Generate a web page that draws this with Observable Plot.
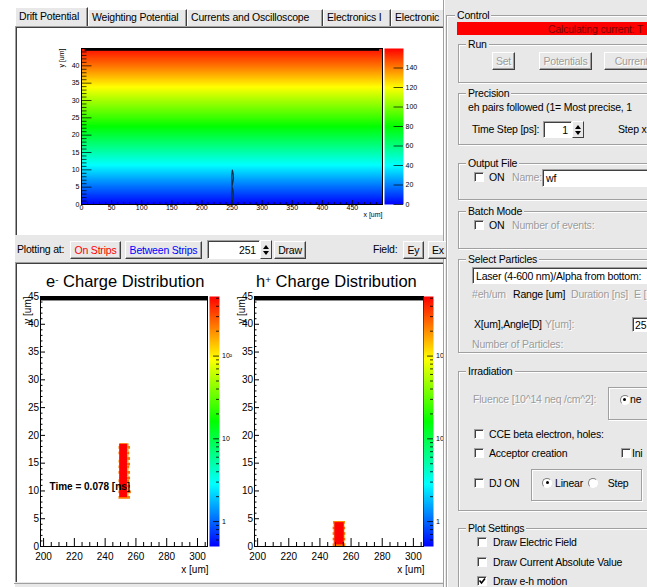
<!DOCTYPE html>
<html><head><meta charset="utf-8">
<script src="https://cdn.jsdelivr.net/npm/d3@7"></script>
<script src="https://cdn.jsdelivr.net/npm/@observablehq/plot@0.6"></script>
<style>
body{margin:0;width:647px;height:587px;overflow:hidden;background:#fff;font-family:"Liberation Sans",Arial,sans-serif;font-size:10.5px;position:relative;color:#000}
div{box-sizing:border-box}
.p{position:absolute}
.t{position:absolute;white-space:nowrap;line-height:12px;letter-spacing:-0.2px}
.dis{color:#9c9c9c;text-shadow:1px 1px 0 #fff}
.tab{position:absolute;background:#e8e8e8;border-left:1px solid #fff;border-top:1px solid #fff;border-right:1px solid #404040;box-shadow:inset -1px 0 0 #a0a0a0;white-space:nowrap;padding-left:3px;letter-spacing:-0.2px}
.btn{position:absolute;background:#e8e8e8;border:1px solid;border-color:#fff #404040 #404040 #fff;box-shadow:inset -1px -1px 0 #a0a0a0;display:flex;align-items:center;justify-content:center;white-space:nowrap;letter-spacing:-0.2px}
.inp{position:absolute;background:#fff;border:1px solid;border-color:#a0a0a0 #fff #fff #a0a0a0;box-shadow:inset 1px 1px 0 #404040;white-space:nowrap;display:flex;align-items:center;padding:0 3px;letter-spacing:-0.2px;overflow:hidden}
.grp{position:absolute;border:1px solid #a0a0a0;box-shadow:inset 1px 1px 0 #fff,1px 1px 0 #fff}
.gl{position:absolute;background:#e8e8e8;padding:0 2px;white-space:nowrap;line-height:12px;letter-spacing:-0.2px}
.cb{position:absolute;width:10px;height:10px;background:#fff;border:1px solid;border-color:#a0a0a0 #fff #fff #a0a0a0;box-shadow:inset 1px 1px 0 #404040}
.rd{position:absolute;width:10px;height:10px;border-radius:50%;background:#fff;border:1px solid;border-color:#808080 #fff #fff #808080}
.spin{position:absolute;background:#e8e8e8;border:1px solid;border-color:#fff #404040 #404040 #fff}
.up,.dn{position:absolute;left:2px;width:0;height:0;border-left:3px solid transparent;border-right:3px solid transparent}
.up{border-bottom:4px solid #000}
.dn{border-top:4px solid #000}
sup{font-size:60%;vertical-align:top;position:relative;top:-1px}
svg{max-width:none !important}
</style></head>
<body>
<div id="ui"></div>
<div id="clip" class="p" style="left:0;top:0;width:443px;height:587px;overflow:hidden"></div>
<script>
// ---------------- DATA ----------------
// Drift potential: values read along y (um) at both sides of the sensor (x in um)
const potX = [0, 500];
const potY = [0, 5, 10, 15, 20, 25, 30, 35, 40, 45];
const potV = [0, 17, 35, 53, 71, 89, 106, 124, 142, 158];
const driftStripX = [6, 495];
const driftStripY = [44.2, 45];
const contourX = [250, 251.3, 252.4, 251.8, 250.6, 249.6, 249.8, 250, 251.3, 252.4, 251.8, 250.6, 249.6, 249.8, 250];
const contourY = [0.2, 1.2, 2.6, 4.0, 4.9, 3.5, 1.5, 5.2, 6.3, 7.6, 9.0, 9.9, 8.5, 6.5, 5.2];
const driftXTicks = [0, 50, 100, 150, 200, 250, 300, 350, 400, 450];
const driftYTicks = [0, 5, 10, 15, 20, 25, 30, 35, 40];
const driftCbTicks = [0, 20, 40, 60, 80, 100, 120, 140];

// Charge distributions (x,y in um; counts)
const chargeStripX = [198, 306.5];
const chargeStripY = [44.2, 45];
const eRowY = [8.5, 9, 9.5, 10, 10.5, 11, 11.5, 12, 12.5, 13, 13.5, 14, 14.5, 15, 15.5, 16, 16.5, 17, 17.5, 18];
const eRowLeft = [249, 249.5, 249, 249.5, 249, 249.5, 249, 249.5, 249.5, 249, 249.5, 249, 249.5, 249, 249.5, 249.5, 249, 249.5, 249, 249.5];
const eRowRight = [256.5, 255.5, 257, 255.5, 256.5, 255.5, 256, 256.5, 255.5, 256.5, 255.5, 256, 256.5, 255.5, 256.5, 255.5, 256, 255.5, 256.5, 255.5];
const eRowCount = [220, 160, 260, 180, 240, 150, 230, 260, 170, 240, 160, 220, 250, 170, 240, 160, 230, 180, 220, 200];
const eCoreX = [249.5, 254.5];
const eCoreY = [8.8, 18.4];
const eCoreCount = 520;
const hRowY = [0, 0.5, 1, 1.5, 2, 2.5, 3, 3.5, 4];
const hRowLeft = [248.5, 249, 248.5, 249.2, 248.5, 249, 248.5, 249, 248.7];
const hRowRight = [256.6, 256, 256.6, 256.2, 256.6, 256, 256.5, 256, 256.4];
const hRowCount = [230, 170, 250, 160, 240, 180, 250, 170, 210];
const hCoreX = [249.6, 255.6];
const hCoreY = [0.3, 4.3];
const hCoreCount = 520;
const chargeXTicks = [200, 220, 240, 260, 280, 300];
const chargeYTicks = [0, 5, 10, 15, 20, 25, 30, 35, 40, 45];
const chargeCbTicks = [1, 10, 100];
const chargeCbLabels = ["1", "10", "10\u00B2"];
const timeText = "Time = 0.078 [ns]";

// ---------------- helpers ----------------
const paletteColors = ["#0000ff", "#00ffff", "#00ff00", "#ffff00", "#ff0000"];
const rainbow = d3.piecewise(d3.interpolateRgb, paletteColors);
const font = "Liberation Sans, Arial, sans-serif";
const baseStyle = {fontFamily: font, background: "none", overflow: "visible", color: "black"};

function place(el, x, y) {
  const d = document.createElement("div");
  d.className = "p"; d.style.left = x + "px"; d.style.top = y + "px";
  d.style.width = el.getAttribute("width") + "px";
  d.style.height = el.getAttribute("height") + "px";
  d.appendChild(el); document.getElementById("clip").appendChild(d);
}

// ---------------- DRIFT POTENTIAL ----------------
const potGrid = potX.flatMap(x => potY.map((y, i) => ({x, y, v: potV[i]})));
const contour = contourX.map((x, i) => ({x, y: contourY[i]}));
const dW = 366, dH = 208, dML = 64, dMR = 1, dMT = 21, dMB = 31;
const dPW = dW - dML - dMR, dPH = dH - dMT - dMB;
const driftColor = {type: "linear", domain: [0, 160], interpolate: rainbow};

place(Plot.plot({
  width: dW, height: dH, marginLeft: dML, marginRight: dMR, marginTop: dMT, marginBottom: dMB,
  x: {domain: [0, 500]}, y: {domain: [0, 45]}, color: driftColor,
  style: {...baseStyle, fontSize: "7px"},
  marks: [
    Plot.raster(potGrid, {x: "x", y: "y", fill: "v", interpolate: "barycentric", x1: 0, x2: 500, y1: 0, y2: 45}),
    Plot.rect([0], {x1: () => driftStripX[0], x2: () => driftStripX[1], y1: () => driftStripY[0], y2: () => driftStripY[1], fill: "black"}),
    Plot.line(contour, {x: "x", y: "y", stroke: "#10304a", strokeWidth: 1.2}),
    Plot.tickY(d3.range(0, 45, 1).filter(v => v % 5), {stroke: "#000", strokeOpacity: 0.7, insetRight: dPW - 5.5}),
    Plot.tickY(driftYTicks, {stroke: "#000", strokeOpacity: 0.7, insetRight: dPW - 10.5}),
    Plot.tickX(d3.range(0, 500, 10).filter(v => v % 50), {stroke: "#000", strokeOpacity: 0.7, insetTop: dPH - 2}),
    Plot.tickX(driftXTicks, {stroke: "#000", strokeOpacity: 0.7, insetTop: dPH - 4}),
    Plot.frame({stroke: "black"}),
    Plot.axisX({ticks: driftXTicks, tickSize: 0, tickPadding: 1, fontSize: 7, label: null}),
    Plot.axisY({ticks: driftYTicks, tickSize: 0, tickPadding: 2, fontSize: 7, label: null}),
    Plot.text(["x [um]"], {frameAnchor: "bottom-right", textAnchor: "end", dy: 12.7, fontSize: 7}),
    Plot.text(["y [um]"], {frameAnchor: "top-left", textAnchor: "end", rotate: -90, dx: -22.7, fontSize: 7})
  ]
}), 17, 27);

place(Plot.plot({
  width: 45, height: dH, marginLeft: 1, marginRight: 25, marginTop: dMT, marginBottom: dMB,
  x: {domain: [0, 1], axis: null}, y: {domain: [0, 160]}, color: driftColor,
  style: {...baseStyle, fontSize: "7px"},
  marks: [
    Plot.raster({fill: (x, y) => y, x1: 0, x2: 1, y1: 0, y2: 160}),
    Plot.tickY(driftCbTicks, {stroke: "#000", strokeOpacity: 0.7, insetLeft: 9.5}),
    Plot.axisY({anchor: "right", ticks: driftCbTicks, tickSize: 0, tickPadding: 2, fontSize: 7, label: null})
  ]
}), 383, 27);

// ---------------- CHARGE DISTRIBUTIONS ----------------
const chargeColor = {type: "log", domain: [0.5, 525], interpolate: rainbow};
const cW = 192, cH = 318, cMT = 33, cMB = 35;

function chargePlot(rowY, rowLeft, rowRight, rowCount, coreX, coreY, coreCount, ml, mr, withTime) {
  const rows = rowY.map((y, i) => ({y1: y, y2: y + 0.5, x1: rowLeft[i], x2: rowRight[i], c: rowCount[i]}));
  const core = [{x1: coreX[0], x2: coreX[1], y1: coreY[0], y2: coreY[1], c: coreCount}];
  const pw = cW - ml - mr, ph = cH - cMT - cMB;
  const marks = [
    Plot.rect(rows, {x1: "x1", x2: "x2", y1: "y1", y2: "y2", fill: "c"}),
    Plot.rect(core, {x1: "x1", x2: "x2", y1: "y1", y2: "y2", fill: "c"}),
    Plot.rect([0], {x1: () => chargeStripX[0], x2: () => chargeStripX[1], y1: () => chargeStripY[0], y2: () => chargeStripY[1], fill: "black"}),
    Plot.tickY(d3.range(0, 45, 1).filter(v => v % 5), {stroke: "#000", insetRight: pw - 2.5}),
    Plot.tickY(chargeYTicks, {stroke: "#000", insetRight: pw - 5}),
    Plot.tickX(d3.range(200, 306, 5).filter(v => v % 20), {stroke: "#000", insetTop: ph - 4}),
    Plot.tickX(chargeXTicks, {stroke: "#000", insetTop: ph - 8}),
    Plot.frame({stroke: "black"}),
    Plot.axisX({ticks: chargeXTicks, tickSize: 0, tickPadding: 6.5, fontSize: 10, label: null}),
    Plot.axisY({ticks: chargeYTicks, tickSize: 0, tickPadding: 1.5, fontSize: 10, label: null}),
    Plot.text(["x [um]"], {frameAnchor: "bottom-right", textAnchor: "end", dy: 26.3, dx: 1, fontSize: 10}),
    Plot.text(["y [um]"], {frameAnchor: "top-left", textAnchor: "end", rotate: -90, dx: -17, fontSize: 10})
  ];
  if (withTime) marks.push(Plot.text([timeText], {frameAnchor: "left", textAnchor: "start", dx: 9, dy: 65.7, fontSize: 10, fontWeight: "bold"}));
  return Plot.plot({
    width: cW, height: cH, marginLeft: ml, marginRight: mr, marginTop: cMT, marginBottom: cMB,
    x: {domain: [198, 306.5]}, y: {domain: [0, 45]}, color: chargeColor,
    style: {...baseStyle, fontSize: "10px"},
    marks
  });
}
const cbLabelOf = new Map(chargeCbTicks.map((t, i) => [t, chargeCbLabels[i]]));
function chargeBar() {
  const minor = [0.6, 0.7, 0.8, 0.9, 2, 3, 4, 5, 6, 7, 8, 9, 20, 30, 40, 50, 60, 70, 80, 90, 200, 300, 400, 500];
  return Plot.plot({
    width: 30, height: cH, marginLeft: 0, marginRight: 20, marginTop: cMT, marginBottom: cMB,
    x: {domain: [0, 1], axis: null}, y: {type: "log", domain: [0.5, 525], axis: null}, color: chargeColor,
    style: {...baseStyle, fontSize: "7px"},
    marks: [
      Plot.raster({fill: (x, y) => y, x1: 0, x2: 1, y1: 0.5, y2: 525}),
      Plot.tickY(minor, {stroke: "#000", strokeOpacity: 0.8, insetLeft: 7}),
      Plot.tickY(chargeCbTicks, {stroke: "#000", strokeOpacity: 0.8, insetLeft: 4}),
      Plot.text(chargeCbTicks, {y: d => d, text: d => cbLabelOf.get(d), frameAnchor: "right", textAnchor: "start", dx: 2.5, fontSize: 7, fill: "black"})
    ]
  });
}
place(chargePlot(eRowY, eRowLeft, eRowRight, eRowCount, eCoreX, eCoreY, eCoreCount, 23, 2, true), 17, 263);
place(chargeBar(), 209, 263);
place(chargePlot(hRowY, hRowLeft, hRowRight, hRowCount, hCoreX, hCoreY, hCoreCount, 23, 0, false), 231, 263);
place(chargeBar(), 422.5, 263);

// ---------------- GUI chrome ----------------
const B = (x, y, w, h, cls, inner = "", st = "") => `<div class="${cls}" style="left:${x}px;top:${y}px;width:${w}px;height:${h}px;${st}">${inner}</div>`;
const T = (x, yc, s, cls = "", st = "") => `<div class="t ${cls}" style="left:${x}px;top:${yc - 6}px;${st}">${s}</div>`;
const G = (x, y1, x2, y2, label, lx) => B(x, y1, x2 - x, y2 - y1, "grp") + `<div class="gl" style="left:${lx - 2}px;top:${y1 - 6}px">${label}</div>`;
const CB = (x, yc, checked) => B(x, yc - 5, 10, 10, "cb", checked ? `<svg width="8" height="8" style="position:absolute;left:0;top:0"><path d="M1.5 3.5 L3.5 6 L7 1.5" stroke="#000" stroke-width="1.6" fill="none"/></svg>` : "");
const RD = (xc, yc, on) => B(xc - 5, yc - 5, 10, 10, "rd", on ? `<div style="position:absolute;left:2.5px;top:2.5px;width:3px;height:3px;border-radius:50%;background:#000"></div>` : "");
const SPIN = (x, y, w, h) => B(x, y, w, h, "spin", `<div class="up" style="top:${h/2 - 6}px"></div><div class="dn" style="top:${h/2}px"></div>`);
const tab = (x1, x2, label, sel) => B(x1, sel ? 7 : 9, x2 - x1, sel ? 20 : 17, "tab", label, `line-height:${sel ? 17 : 15}px`);

let h = "";
// left panel background
h += B(15, 26, 428, 561, "p", "", "background:#e8e8e8");
// right panel
h += B(443, 0, 204, 587, "p", "", "background:#e8e8e8;border-left:1px solid #a0a0a0;box-shadow:inset 1px 0 0 #fff");
// tabs
h += `<div class="p" style="left:0;top:0;width:443px;height:27px;overflow:hidden">`;
h += tab(88, 187, "Weighting Potential", false) + tab(187, 323, "Currents and Oscilloscope", false) + tab(323, 391, "Electronics I", false) + tab(391, 450, "Electronic", false);
h += tab(15, 88, "Drift Potential", true);
h += `</div>`;
// canvases
h += B(15, 26, 428, 209, "p", "", "background:#fff;border-left:1px solid #a0a0a0;border-top:1px solid #a0a0a0;box-shadow:inset 1px 1px 0 #404040");
h += B(15, 262, 428, 320, "p", "", "background:#fff;border-left:1px solid #a0a0a0;border-top:1px solid #a0a0a0;box-shadow:inset 1px 1px 0 #404040");
h += B(14, 583, 429, 1, "p", "", "background:#a0a0a0");
// middle row
h += T(17, 249, "Plotting at:");
h += B(70, 241, 51, 18, "btn", "On Strips", "color:#ff0000");
h += B(125, 241, 77, 18, "btn", "Between Strips", "color:#0000ff");
h += B(207, 240, 53, 19, "inp", "251", "justify-content:flex-end");
h += SPIN(260, 240, 12, 19);
h += B(274, 241, 32, 18, "btn", "Draw");
h += T(373, 249, "Field:");
h += B(403, 241, 21, 18, "btn", "Ey");
h += B(428, 241, 20, 18, "btn", "Ex", "justify-content:flex-start;padding-left:3px");
// titles
h += T(46, 281, "e<sup>-</sup> Charge Distribution", "", "font-size:16.5px;line-height:18px;top:272px;letter-spacing:0");
h += T(256, 281, "h<sup>+</sup> Charge Distribution", "", "font-size:16.5px;line-height:18px;top:272px;letter-spacing:0");

// right control panel
h += G(446, 15, 700, 700, "Control", 457);
h += B(457, 22, 200, 13, "p", "", "background:#ff0000");
h += T(548, 28.7, "Calculating current: T", "", "color:#7a0000");
h += G(458, 44, 700, 83, "Run", 468);
h += B(492, 52, 23, 18, "btn dis", "Set");
h += B(539, 52, 53, 18, "btn dis", "Potentials");
h += B(604, 52, 60, 18, "btn dis", "Currents");
h += G(458, 93, 700, 145, "Precision", 468);
h += T(468, 107.3, "eh pairs followed (1= Most precise, 1");
h += T(472, 129, "Time Step [ps]:");
h += B(543, 121, 29, 17, "inp", "1", "justify-content:flex-end");
h += SPIN(572, 121, 12, 17);
h += T(618, 129, "Step x");
h += G(458, 163, 700, 200, "Output File", 468);
h += CB(474, 176.5, false) + T(489, 176.5, "ON") + T(512, 176.5, "Name:", "dis");
h += B(542, 169, 120, 18, "inp", "wf");
h += G(458, 211, 700, 249, "Batch Mode", 468);
h += CB(474, 224.5, false) + T(489, 224.5, "ON") + T(512, 224.5, "Number of events:", "dis");
h += G(458, 259, 700, 353, "Select Particles", 468);
h += B(472, 267, 190, 17, "inp", "Laser (4-600 nm)/Alpha from bottom:");
h += T(472, 294, "#eh/um", "dis") + T(513, 294, "Range [um]") + T(571, 294, "Duration [ns]", "dis") + T(634, 294, "E [", "dis");
h += T(474, 324, "X[um],Angle[D]") + T(545, 324, "Y[um]:", "dis");
h += B(632, 317, 30, 15, "inp", "25", "padding-left:2px");
h += T(472, 344, "Number of Particles:", "dis");
h += G(458, 371, 700, 511, "Irradiation", 468);
h += T(473, 399, "Fluence [10^14 neq /cm^2]:", "dis");
h += B(608, 387, 60, 33, "grp");
h += RD(624.5, 399.5, true) + T(630, 399, "ne");
h += CB(474, 434, false) + T(489, 434, "CCE beta electron, holes:");
h += CB(474, 453, false) + T(489, 453, "Acceptor creation");
h += CB(621, 453, false) + T(632, 453, "Ini");
h += CB(474, 482.5, false) + T(489, 482.5, "DJ ON");
h += B(531, 469, 111, 32, "grp");
h += RD(547, 482.7, true) + T(555, 482.7, "Linear");
h += RD(592.5, 482.7, false) + T(607.7, 482.7, "Step");
h += G(458, 528, 700, 700, "Plot Settings", 468);
h += CB(477, 542, false) + T(493, 542, "Draw Electric Field");
h += CB(477, 561.7, false) + T(493, 561.7, "Draw Current Absolute Value");
h += CB(477, 581, true) + T(493, 581, "Draw e-h motion");
document.getElementById("ui").innerHTML = h;
</script>
</body></html>
